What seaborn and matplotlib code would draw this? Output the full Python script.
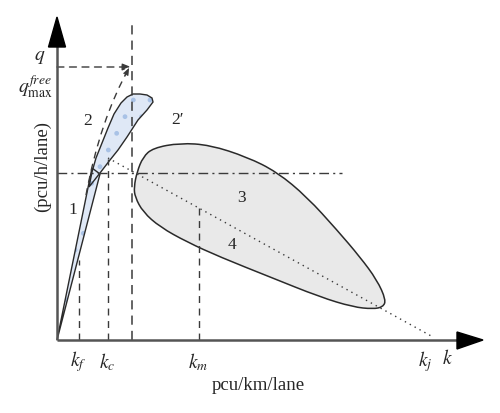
import numpy as np
import pandas as pd
import seaborn as sns
import matplotlib
matplotlib.use("Agg")
import matplotlib.pyplot as plt
from matplotlib.path import Path
from matplotlib.patches import PathPatch, Polygon

sns.set_style("white")
plt.rcParams["font.family"] = ["Liberation Serif", "DejaVu Serif"]
plt.rcParams["mathtext.fontset"] = "stix"

# ---- schematic geometry (pixel-like diagram units, y downward) ----
origin = (57, 340)
axis_top = 17
axis_right = 483

# light-blue lower wedge (region 1) and upper lobe (region 2)
wedge_x = [57, 92, 100]
wedge_y = [340, 168, 174]
lobe_x = [89, 92, 96, 102, 108, 114, 121, 127, 133, 140, 147, 152, 153, 147, 138, 127, 118, 110, 100, 89]
lobe_y = [187, 172, 158, 143, 128, 114, 103, 97, 94, 94, 95, 98, 102, 110, 120, 137, 150, 160, 173, 187]

# gray congested region (3 and 4)
blob_x = [134, 137, 143, 153, 180, 210, 247, 277, 307, 337, 360, 377, 386,
          383, 373, 353, 320, 270, 220, 187, 160, 143, 135]
blob_y = [187, 172, 157, 148, 143, 145, 157, 172, 197, 230, 257, 280, 300,
          307, 309, 307, 297, 277, 257, 242, 227, 212, 197]

# reference densities on the k axis
k_names = [r"$k_f$", r"$k_c$", r"$k_m$", r"$k_j$"]
k_pos = [79, 108, 199, 426]
k_top = [260, 159, 205, None]
k_free_max = 132
q_free_max = 67
q_cap = 173

# dotted line from capacity to jam density
dot_x = [108, 433]
dot_y = [158, 337]

# free-flow dashed curve (start, control, end)
curve_pts = [(86, 195), (100, 120), (129, 68)]

region_labels = ["1", "2", "2\u2032", "3", "4"]
region_x = [73, 88, 177, 242, 232]
region_y = [210, 121, 120, 198, 245]

fig = plt.figure(figsize=(5.0, 4.13), dpi=100)
ax = fig.add_axes([0, 0, 1, 1])
ax.set_xlim(0, 500)
ax.set_ylim(413, 0)
ax.axis("off")

dark = "#3a3a3a"
axc = "#555555"

# gray blob (smooth closed quadratic path through midpoints)
P = np.column_stack([blob_x, blob_y]).astype(float)
n = len(P)
mids = (P + np.roll(P, -1, axis=0)) / 2
verts = [mids[-1]]
codes = [Path.MOVETO]
for i in range(n):
    verts += [P[i], mids[i]]
    codes += [Path.CURVE3, Path.CURVE3]
verts.append(mids[-1])
codes.append(Path.CLOSEPOLY)
ax.add_patch(PathPatch(Path(verts, codes), facecolor="#e9e9e9",
                       edgecolor="#2a2a2a", lw=1.1, zorder=2))

# blue regions
for xs, ys in [(wedge_x, wedge_y), (lobe_x, lobe_y)]:
    pts = np.column_stack([xs, ys])
    ax.add_patch(Polygon(pts, closed=True, facecolor="#dfe8f6",
                         edgecolor="#a9c2e6", hatch=".", lw=0, zorder=3))
    ax.add_patch(Polygon(pts, closed=True, facecolor="none",
                         edgecolor="#2a2a2a", lw=1.0, zorder=4))

# dotted line (seaborn)
sns.lineplot(x=dot_x, y=dot_y, ax=ax, color=dark, lw=1.0,
             linestyle=(0, (1, 3)), sort=False, zorder=5)

# dash-dot capacity line
sns.lineplot(x=[origin[0], 342], y=[q_cap, q_cap], ax=ax, color=dark, lw=1.0,
             linestyle=(0, (7, 3, 1.5, 3)), sort=False, zorder=5)

# vertical dashed lines
for xk, yt in zip(k_pos, k_top):
    if yt is None:
        continue
    ax.plot([xk, xk], [origin[1], yt], color=dark, lw=1.0,
            linestyle=(0, (5, 4)), zorder=5)
ax.plot([k_free_max, k_free_max], [origin[1], 22], color=dark, lw=1.1,
        linestyle=(0, (6, 4)), zorder=5)

# dashed arrow at q_max^free
ax.annotate("", xy=(131, q_free_max), xytext=(origin[0], q_free_max),
            arrowprops=dict(arrowstyle="-|>,head_length=0.5,head_width=0.2",
                            color=dark, lw=1.0, linestyle=(0, (5, 4)),
                            shrinkA=0, shrinkB=0), zorder=6)

# dashed free-flow curve with arrowhead
cverts = np.array(curve_pts, dtype=float)
ax.add_patch(PathPatch(Path(cverts, [Path.MOVETO, Path.CURVE3, Path.CURVE3]),
                       facecolor="none", edgecolor=dark, lw=1.0,
                       linestyle=(0, (5, 4)), zorder=6))
ax.annotate("", xy=curve_pts[2], xytext=(125, 76),
            arrowprops=dict(arrowstyle="-|>,head_length=0.45,head_width=0.18",
                            color=dark, lw=0.5, shrinkA=0, shrinkB=0), zorder=6)

# axes with arrowheads
ax.plot([origin[0], origin[0]], [origin[1], 40], color=axc, lw=1.8, zorder=7,
        solid_capstyle="butt")
ax.plot([origin[0], 460], [origin[1], origin[1]], color=axc, lw=1.8, zorder=7,
        solid_capstyle="butt")
ax.add_patch(Polygon([[origin[0], axis_top], [48.5, 47], [65.5, 47]],
                     closed=True, color="black", zorder=8))
ax.add_patch(Polygon([[axis_right, origin[1]], [457, 332], [457, 349]],
                     closed=True, color="black", zorder=8))

# labels
fs = 14
for name, xk in zip(k_names, k_pos):
    ax.text(xk - 1, 362, name, fontsize=fs, ha="center", va="center")
ax.text(447, 359, r"$k$", fontsize=fs, ha="center", va="center")
ax.text(40, 57, r"$q$", fontsize=fs, ha="center", va="center")
ax.text(35, 87, r"$q_{\mathrm{max}}^{free}$", fontsize=fs, ha="center",
        va="center")
ax.text(258, 385, "pcu/km/lane", fontsize=13.5, ha="center", va="center")
ax.text(42, 166, "(pcu/h/lane)", fontsize=13.5, ha="center", va="center",
        rotation=90)
for lab, x, y in zip(region_labels, region_x, region_y):
    ax.text(x, y, lab, fontsize=12.5, ha="center", va="center", zorder=9)

fig.savefig("out.png", dpi=100)
